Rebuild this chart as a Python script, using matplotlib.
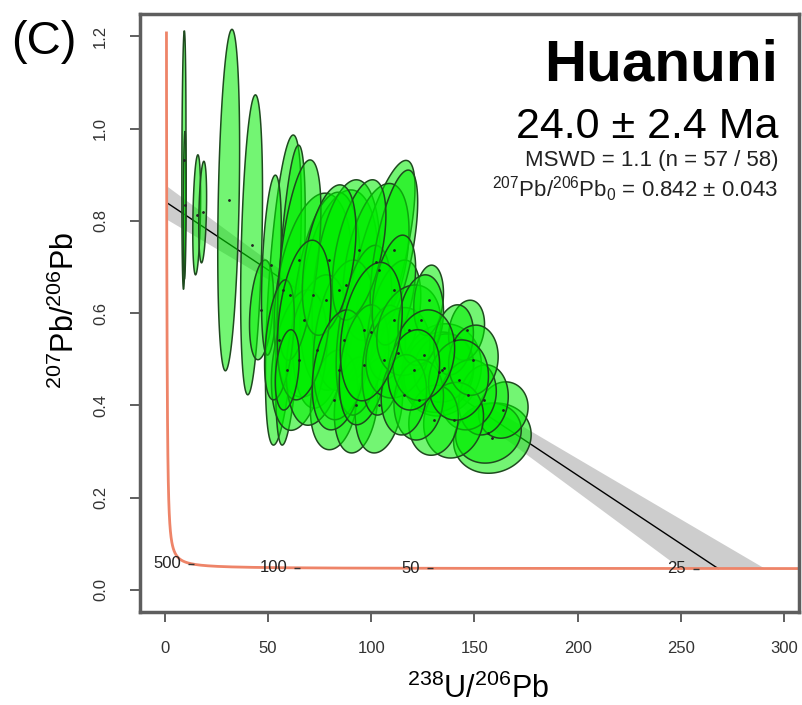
import numpy as np
import matplotlib
matplotlib.use('Agg')
import matplotlib.pyplot as plt
from matplotlib.patches import Polygon

plt.rcParams['font.family'] = ['Liberation Sans', 'DejaVu Sans']
plt.rcParams['mathtext.fontset'] = 'custom'
plt.rcParams['mathtext.rm'] = 'Liberation Sans'
plt.rcParams['mathtext.it'] = 'Liberation Sans:italic'

# 数据：每个测点的 238U/206Pb, 207Pb/206Pb 以及误差（半宽）和相关系数
ell_x = [9.2, 9.6, 15.4, 18.3, 30.9, 42.0, 57.4, 60.8, 46.8, 51.6,
         71.9, 84.4, 78.1, 87.8, 103.7, 102.3, 65.1, 82.0, 92.6, 103.7,
         73.8, 86.8, 96.5, 111.0, 65.1, 111.0, 55.5, 94.1, 79.6, 67.5,
         59.3, 84.4, 96.5, 106.1, 111.0,
         134.1, 132.7, 135.1, 112.9, 118.2, 127.8, 124.0, 146.2, 139.9, 158.7,
         156.8, 164.0, 154.4, 147.1, 139.9, 130.2, 123.0, 115.8, 149.5, 142.3,
         125.4, 120.6, 100.0]
ell_y = [0.932, 0.834, 0.813, 0.819, 0.845, 0.748, 0.650, 0.639, 0.607, 0.704,
         0.639, 0.650, 0.628, 0.661, 0.693, 0.711, 0.498, 0.412, 0.401, 0.401,
         0.520, 0.542, 0.563, 0.585, 0.715, 0.737, 0.542, 0.737, 0.715, 0.585,
         0.477, 0.477, 0.488, 0.498, 0.650,
         0.477, 0.472, 0.481, 0.514, 0.563, 0.628, 0.585, 0.563, 0.542, 0.329,
         0.340, 0.390, 0.412, 0.423, 0.368, 0.368, 0.412, 0.423, 0.498, 0.455,
         0.509, 0.477, 0.560]
ell_sx = [1.0, 0.7, 1.9, 1.9, 5.3, 5.3, 8.7, 7.2, 5.8, 4.8,
          19.0, 19.0, 16.5, 16.5, 17.5, 16.0, 13.5, 11.5, 10.5, 11.5,
          15.0, 15.0, 13.5, 13.0, 10.5, 11.5, 7.2, 13.0, 13.0, 13.0,
          5.8, 13.0, 12.0, 10.5, 10.5,
          19.3, 16.9, 14.5, 15.5, 15.5, 7.2, 11.0, 8.7, 9.6, 18.8,
          15.9, 12.0, 12.0, 13.5, 14.5, 12.0, 12.0, 11.0, 12.0, 14.5,
          15.0, 12.5, 15.0]
ell_sy = [0.28, 0.16, 0.13, 0.11, 0.37, 0.325, 0.336, 0.325, 0.108, 0.195,
          0.221, 0.217, 0.234, 0.228, 0.238, 0.17, 0.152, 0.108, 0.104, 0.104,
          0.163, 0.173, 0.184, 0.13, 0.217, 0.173, 0.13, 0.152, 0.163, 0.173,
          0.087, 0.13, 0.13, 0.119, 0.119,
          0.10, 0.087, 0.074, 0.098, 0.098, 0.076, 0.098, 0.065, 0.076, 0.076,
          0.065, 0.061, 0.076, 0.076, 0.082, 0.076, 0.087, 0.087, 0.076, 0.087,
          0.098, 0.087, 0.15]
ell_rho = [0.2, 0.2, 0.3, 0.3, 0.3, 0.35, 0.55, 0.55, 0.3, 0.4,
           0.3, 0.3, 0.35, 0.3, 0.75, 0.4, 0.3, 0.2, 0.2, 0.2,
           0.3, 0.3, 0.4, 0.4, 0.5, 0.6, 0.4, 0.5, 0.4, 0.3,
           0.3, 0.3, 0.3, 0.3, 0.4,
           0.1, 0.1, 0.1, 0.2, 0.2, 0.2, 0.2, 0.2, 0.2, 0.1,
           0.1, 0.1, 0.1, 0.1, 0.1, 0.1, 0.1, 0.1, 0.1, 0.1,
           0.15, 0.15, 0.3]

# 谐和线年龄标注 (Ma)
tick_ages = [500, 100, 50, 25]

# 拟合结果
age = 24.0
y0 = 0.842
y0_err = 0.043

# 衰变常数
l238 = 1.55125e-4  # 1/Ma
l235 = 9.8485e-4
U85 = 137.818


def tw(t):
    # Tera-Wasserburg 谐和线坐标
    x = 1 / (np.exp(l238 * t) - 1)
    y = (np.exp(l235 * t) - 1) / (np.exp(l238 * t) - 1) / U85
    return x, y


fig = plt.figure(figsize=(8.03, 7.05), dpi=100)
ax = fig.add_axes([0.1743, 0.1319, 0.8207, 0.8481])

# 下交点
x_lo, y_lo = tw(age)
slope = (y_lo - y0) / x_lo

# 置信带
xs = np.linspace(1, 305, 400)
mid = y0 + slope * xs
xc = 100.0
hw = np.sqrt(0.01 ** 2 + (0.00035 * (xs - xc)) ** 2)
upper = mid + hw
lower = np.maximum(mid - hw, y_lo)
ax.fill_between(xs, lower, upper, where=upper > y_lo, color='#c8c8c8',
                alpha=0.9, lw=0, interpolate=True, zorder=1)
ax.plot([1, x_lo], [y0 + slope * 1, y_lo], color='black', lw=1, zorder=2)

# 谐和线
t = np.logspace(0, np.log10(5500), 600)
cx, cy = tw(t)
ax.plot(cx, cy, color='#ee8468', lw=2, zorder=2)
for a in tick_ages:
    px, py = tw(a)
    ax.plot(px, py, marker='_', color='#333333', ms=5, zorder=3)
    ax.annotate(str(a), (px, py), xytext=(-7, 0), textcoords='offset points',
                ha='right', va='center', fontsize=12, color='#222222', zorder=3)

# 误差椭圆
th = np.linspace(0, 2 * np.pi, 120)
for x, y, sx, sy, r in zip(ell_x, ell_y, ell_sx, ell_sy, ell_rho):
    cov = np.array([[sx * sx, r * sx * sy], [r * sx * sy, sy * sy]])
    L = np.linalg.cholesky(cov)
    pts = (L @ np.vstack([np.cos(th), np.sin(th)])).T + [x, y]
    ax.add_patch(Polygon(pts, closed=True, facecolor='#00ee00', alpha=0.55,
                         edgecolor='none', zorder=4))
    ax.add_patch(Polygon(pts, closed=True, facecolor='none',
                         edgecolor='#1f4a1f', lw=1.1, zorder=4))
    ax.plot(x, y, '.', color='#222222', ms=2, zorder=5)

ax.set_xlim(-12.1, 307.3)
ax.set_ylim(-0.0477, 1.248)
ax.set_xticks([0, 50, 100, 150, 200, 250, 300])
ax.set_yticks([0.0, 0.2, 0.4, 0.6, 0.8, 1.0, 1.2])
ax.set_yticklabels(['0.0', '0.2', '0.4', '0.6', '0.8', '1.0', '1.2'])
ax.tick_params(direction='out', length=7, width=1.2, color='#444444',
               labelsize=12, labelcolor='#333333')
ax.tick_params(axis='x', pad=14)
ax.tick_params(axis='y', pad=16)
for lab in ax.get_yticklabels():
    lab.set_rotation(90)
    lab.set_va('center')
for s in ax.spines.values():
    s.set_linewidth(2.5)
    s.set_color('#5e5e5e')

# 文字标注
fig.text(0.969, 0.8865, 'Huanuni', ha='right', va='baseline', fontsize=42,
         fontweight='bold')
fig.text(0.969, 0.804, '24.0 ± 2.4 Ma', ha='right', va='baseline', fontsize=31)
fig.text(0.969, 0.765, 'MSWD = 1.1 (n = 57 / 58)', ha='right', va='baseline',
         fontsize=16, color='#222222')
fig.text(0.969, 0.7205, r'$\mathregular{^{207}}$Pb/$\mathregular{^{206}}$Pb$\mathregular{_0}$ = 0.842 ± 0.043',
         ha='right', va='baseline', fontsize=16, color='#222222')
fig.text(0.014, 0.940, '(C)', ha='left', va='center', fontsize=34)
fig.text(0.082, 0.560, r'$\mathregular{^{207}}$Pb/$\mathregular{^{206}}$Pb', rotation=90,
         ha='center', va='center', fontsize=22)
fig.text(0.595, 0.010, r'$\mathregular{^{238}}$U/$\mathregular{^{206}}$Pb',
         ha='center', va='baseline', fontsize=22)

plt.savefig('out.png', dpi=100)
